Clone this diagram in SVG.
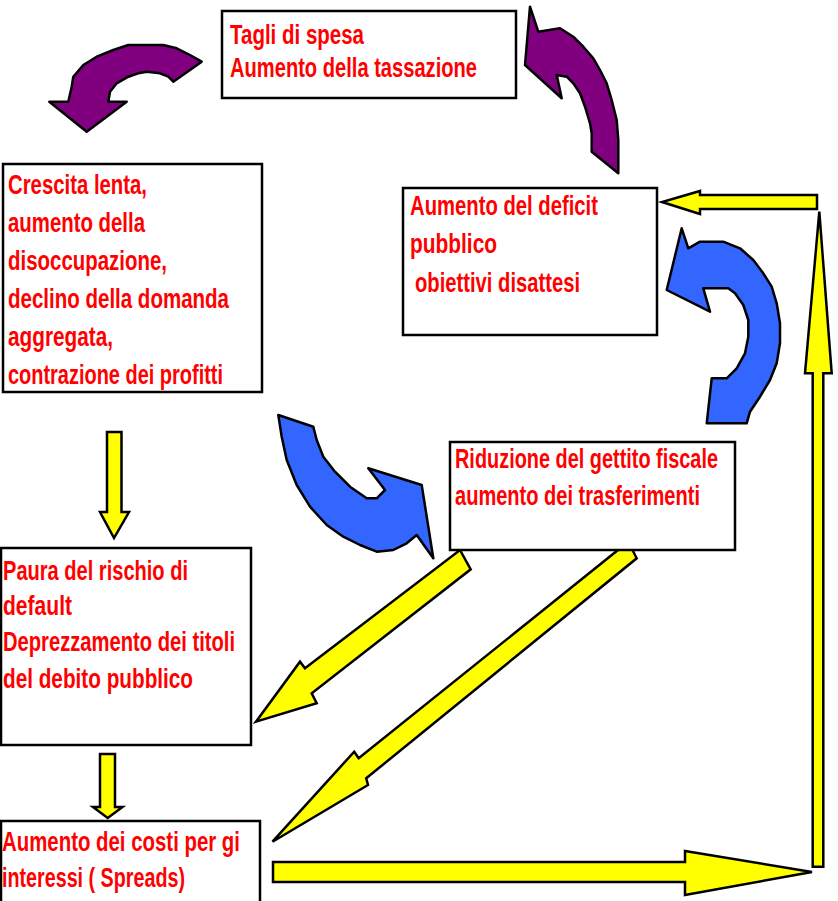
<svg xmlns="http://www.w3.org/2000/svg" width="838" height="901" viewBox="0 0 838 901">
<style>
.box{fill:#fff;stroke:#000;stroke-width:2.5}
.t{font-family:"Liberation Sans",Arial,sans-serif;font-size:28px;font-weight:bold;fill:#ff0000}
.y{fill:#ffff00;stroke:#000;stroke-width:2.5;stroke-linejoin:miter}
.p{fill:#800080;stroke:#000;stroke-width:2.5;stroke-linejoin:round}
.b{fill:#3366ff;stroke:#000;stroke-width:2.5;stroke-linejoin:round}
</style>
<rect width="838" height="901" fill="#fff"/>
<g id="connectors">
<polygon class="p" points="86.7,131.7 49.3,101.7 68.3,101.7 71.7,86.7 73.3,76.7 83.3,65 96.7,56.7 113.3,50 128.3,45 146.7,45 163.3,45 176.7,48.3 190,55 201.7,61.7 173.3,81.7 168.3,76.7 160,73.3 146.7,71.7 138.3,73.3 128.3,76.7 116.7,83.3 110,91.7 108.3,101.7 126.7,101.7"/>
<polygon class="p" points="530,6.7 538.3,31.7 560,28.3 573.3,36.7 583.3,46.7 593.3,58.3 600,70 606.7,83.3 611.7,100 616.7,120 618.3,140 618.3,173.3 591.7,151.7 591.7,133.3 590,123.3 585,106.7 580,93.3 573.3,83.3 566.7,76.7 556.7,75 561.7,98.3 525,65"/>
<polygon class="b" points="681.7,228.3 688.3,248.3 700,241.7 723.3,241.7 740,248.3 753.3,260 763.3,273.3 771.7,286.7 776.7,303.3 780,323.3 780,343.3 776.7,363.3 770,380 760,396.7 750,411.7 746.7,423.3 706.7,423.3 711.7,378.3 726.7,378.3 736.7,368.3 745,353.3 748.3,336.7 748.3,320 743.3,305 735,293.3 728.3,288.3 703.3,288.3 710,311.7 666.7,290"/>
<polygon class="b" points="278.3,415 313.3,426.7 316.7,440 323.3,456.7 335,471.7 350,486.7 366.7,498.3 376.7,498.3 385,490 368.3,468.3 421.7,485 433.3,558.3 416.7,535 406.7,543.3 393.3,550 376.7,551.7 360,545 343.3,536.7 326.7,525 310,506.7 296.7,485 286.7,460 281.7,436.7"/>
<polygon class="y" points="107,432 121.5,432 121.5,512 129,512 114,538 100,512 107,512"/>
<polygon class="y" points="100,754 115,754 115,807 122.5,807 107.7,818 93,807 100,807"/>
<polygon class="y" points="460,550 470.7,569.3 311.7,693.3 316.7,703.3 256,721.7 300,661.7 305,668.3"/>
<polygon class="y" points="628.3,541.7 636.7,558.3 366.2,778.3 368,785 272.5,841.7 354.2,751.7 358.7,758.3"/>
<polygon class="y" points="273,862 685,862 685,851 812,872 685,895 685,882 273,882"/>
<polygon class="y" points="812.7,866.7 812.7,373.3 805,373.3 819.3,211.7 831.7,373.3 823.3,373.3 823.3,866.7"/>
<polygon class="y" points="817,195 700,195 700,191 662,202 700,214 700,209 817,209"/>
</g>
<g id="n1">
<rect class="box" x="222" y="11" width="294" height="87"/>
<text class="t" x="230" y="43.5" textLength="134" lengthAdjust="spacingAndGlyphs">Tagli di spesa</text>
<text class="t" x="230" y="77" textLength="247" lengthAdjust="spacingAndGlyphs">Aumento della tassazione</text>
</g>
<g id="n2">
<rect class="box" x="3" y="164" width="259" height="228"/>
<text class="t" x="8" y="194" textLength="139" lengthAdjust="spacingAndGlyphs">Crescita lenta,</text>
<text class="t" x="8" y="232" textLength="137" lengthAdjust="spacingAndGlyphs">aumento della</text>
<text class="t" x="8" y="270" textLength="159" lengthAdjust="spacingAndGlyphs">disoccupazione,</text>
<text class="t" x="8" y="308" textLength="221" lengthAdjust="spacingAndGlyphs">declino della domanda</text>
<text class="t" x="8" y="346" textLength="105" lengthAdjust="spacingAndGlyphs">aggregata,</text>
<text class="t" x="8" y="384" textLength="215" lengthAdjust="spacingAndGlyphs">contrazione dei profitti</text>
</g>
<g id="n3">
<rect class="box" x="403" y="188" width="254" height="147"/>
<text class="t" x="410" y="215" textLength="188" lengthAdjust="spacingAndGlyphs">Aumento del deficit</text>
<text class="t" x="410" y="253" textLength="87" lengthAdjust="spacingAndGlyphs">pubblico</text>
<text class="t" x="415" y="292" textLength="165" lengthAdjust="spacingAndGlyphs">obiettivi disattesi</text>
</g>
<g id="n4">
<rect class="box" x="450" y="442" width="285" height="108"/>
<text class="t" x="455" y="468" textLength="263" lengthAdjust="spacingAndGlyphs">Riduzione del gettito fiscale</text>
<text class="t" x="455" y="505" textLength="245" lengthAdjust="spacingAndGlyphs">aumento dei trasferimenti</text>
</g>
<g id="n5">
<rect class="box" x="1" y="548" width="250" height="197"/>
<text class="t" x="3" y="580" textLength="185" lengthAdjust="spacingAndGlyphs">Paura del rischio di</text>
<text class="t" x="3" y="615" textLength="69" lengthAdjust="spacingAndGlyphs">default</text>
<text class="t" x="3" y="651" textLength="232" lengthAdjust="spacingAndGlyphs">Deprezzamento dei titoli</text>
<text class="t" x="3" y="688" textLength="190" lengthAdjust="spacingAndGlyphs">del debito pubblico</text>
</g>
<g id="n6">
<rect class="box" x="1" y="821" width="259" height="90"/>
<text class="t" x="2" y="851" textLength="238" lengthAdjust="spacingAndGlyphs">Aumento dei costi per gi</text>
<text class="t" x="2" y="887" textLength="183" lengthAdjust="spacingAndGlyphs">interessi ( Spreads)</text>
</g>
</svg>
